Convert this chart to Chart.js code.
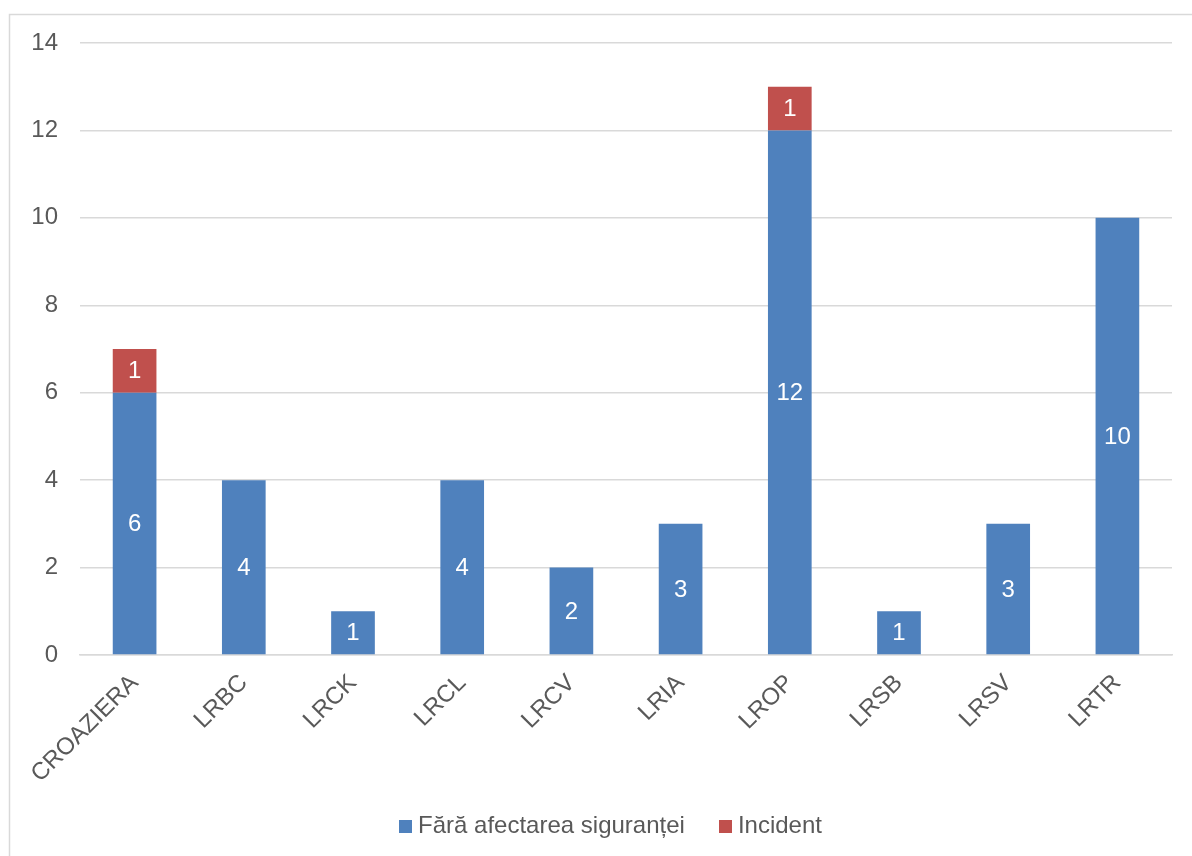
<!DOCTYPE html>
<html>
<head>
<meta charset="utf-8">
<script src="https://cdn.jsdelivr.net/npm/chart.js@4/dist/chart.umd.min.js"></script>
<style>
  html, body { margin: 0; padding: 0; background: #ffffff; }
  #wrap { width: 1192px; height: 856px; position: relative; }
</style>
</head>
<body>
<div id="wrap"><canvas id="c" width="1192" height="856"></canvas></div>
<script>
const categories = ['CROAZIERA', 'LRBC', 'LRCK', 'LRCL', 'LRCV', 'LRIA', 'LROP', 'LRSB', 'LRSV', 'LRTR'];
const faraAfectare = [6, 4, 1, 4, 2, 3, 12, 1, 3, 10];
const incident = [1, null, null, null, null, null, 1, null, null, null];
const seriesNames = ['Fără afectarea siguranței', 'Incident'];
const seriesColors = ['#4F81BD', '#C0504D'];
const yTicks = [0, 2, 4, 6, 8, 10, 12, 14];

const FONT = "'Liberation Sans', Arial, sans-serif";
const TXT = '#595959';
const GRID = '#d9d9d9';

function squareMarker(color) {
  const c = document.createElement('canvas');
  c.width = 13; c.height = 13;
  const g = c.getContext('2d');
  g.fillStyle = color;
  g.fillRect(0, 0, 13, 13);
  return c;
}
const markers = seriesColors.map(squareMarker);

const framePlugin = {
  id: 'frame',
  beforeDraw(chart) {
    // let rotated category labels extend past the axis box
    if (chart.scales.x) chart.scales.x._computeLabelArea = function () { return undefined; };
    const ctx = chart.ctx;
    ctx.save();
    ctx.fillStyle = '#ffffff';
    ctx.fillRect(0, 0, chart.width, chart.height);
    ctx.strokeStyle = GRID;
    ctx.lineWidth = 1.5;
    ctx.strokeRect(9.5, 14.5, chart.width + 20, chart.height + 20);
    ctx.restore();
  }
};

const labelPlugin = {
  id: 'segLabels',
  afterDatasetsDraw(chart) {
    const ctx = chart.ctx;
    ctx.save();
    ctx.font = '24px ' + FONT;
    ctx.fillStyle = '#ffffff';
    ctx.textAlign = 'center';
    ctx.textBaseline = 'middle';
    chart.data.datasets.forEach((ds, di) => {
      const meta = chart.getDatasetMeta(di);
      if (meta.hidden) return;
      meta.data.forEach((el, i) => {
        const v = ds.data[i];
        if (v === null || v === undefined || v === 0) return;
        const p = el.getProps(['x', 'y', 'base'], true);
        ctx.fillText(String(v), p.x, (p.y + p.base) / 2 + 1);
      });
    });
    ctx.restore();
  }
};

new Chart(document.getElementById('c'), {
  type: 'bar',
  data: {
    labels: categories,
    datasets: [
      { label: seriesNames[0], data: faraAfectare, backgroundColor: seriesColors[0], borderWidth: 0, pointStyle: markers[0] },
      { label: seriesNames[1], data: incident, backgroundColor: seriesColors[1], borderWidth: 0, pointStyle: markers[1] }
    ]
  },
  options: {
    responsive: false,
    animation: false,
    devicePixelRatio: 1,
    layout: { padding: { left: 0, right: -35, top: 43, bottom: 8 } },
    datasets: { bar: { categoryPercentage: 1.0, barPercentage: 0.4 } },
    scales: {
      x: {
        stacked: true,
        grid: { display: false, drawTicks: false },
        border: { display: true, color: GRID, width: 1.5 },
        ticks: {
          color: TXT,
          font: { family: FONT, size: 24 },
          minRotation: 45,
          maxRotation: 45,
          padding: 14,
          autoSkip: false
        },
        afterFit(scale) { scale.height = 119; }
      },
      y: {
        stacked: true,
        min: 0,
        max: 14,
        afterBuildTicks(scale) { scale.ticks = yTicks.map(v => ({ value: v })); },
        grid: { color: GRID, lineWidth: 1.5, drawTicks: false },
        border: { display: false },
        ticks: {
          color: TXT,
          font: { family: FONT, size: 24 },
          padding: 22
        },
        afterFit(scale) { scale.width = 80; }
      },
      spacer: {
        type: 'linear',
        position: 'right',
        display: true,
        grid: { display: false, drawTicks: false },
        border: { display: false },
        ticks: { display: false },
        afterFit(scale) { scale.width = 55; }
      }
    },
    plugins: {
      legend: {
        position: 'bottom',
        labels: {
          color: TXT,
          font: { family: FONT, size: 24 },
          usePointStyle: true,
          boxWidth: 1,
          boxHeight: 13,
          padding: 40
        }
      },
      tooltip: { enabled: false }
    }
  },
  plugins: [framePlugin, labelPlugin]
});
</script>
</body>
</html>
